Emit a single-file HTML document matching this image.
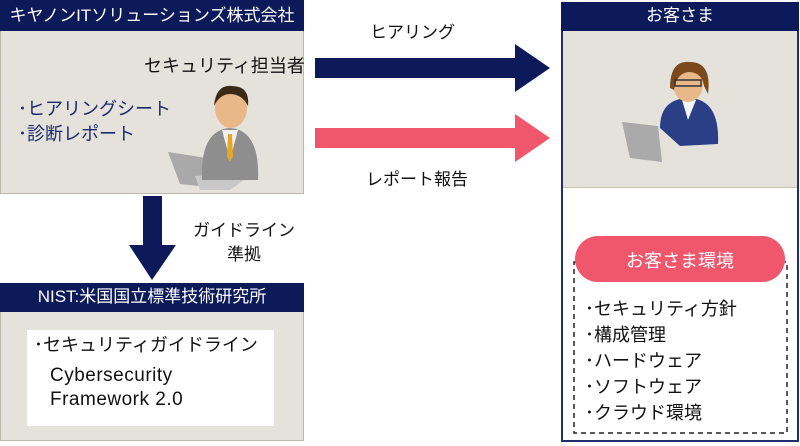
<!DOCTYPE html>
<html><head><meta charset="utf-8"><style>
body{margin:0;width:800px;height:446px;background:#fff;position:relative;overflow:hidden;font-family:"Liberation Sans","Noto Sans CJK JP",sans-serif}
div{position:absolute;box-sizing:border-box}
.hd{background:#0c1a5a;color:#fff;text-align:center;font-size:17px;line-height:28px}
.bg{background:#e5e2dc}
</style></head><body>
<div class="bg" style="left:0;top:0;width:304px;height:194px;border:1px solid #bdb8ac"></div>
<div class="hd" style="left:0;top:0;width:304px;height:31px;line-height:31px">キヤノンITソリューションズ株式会社</div>
<div style="left:144px;top:52px;font-size:18px;color:#111">セキュリティ担当者</div>
<div style="left:18px;top:97px;font-size:18px;color:#1c2a6b;line-height:25px">･ヒアリングシート<br>･診断レポート</div>
<svg style="position:absolute;left:160px;top:80px" width="110" height="110">
<path d="M8 72 L60 80 L58 108 L20 104Z" fill="#a9a9a9"/>
<path d="M35 96 L95 92 L70 110 L40 110Z" fill="#c8c8c8"/>
<path d="M42 100 Q40 50 70 48 Q100 50 98 100Z" fill="#8e8e8e"/>
<path d="M62 50 L70 80 L78 50Z" fill="#f0f0f0"/><path d="M68 54 L72 54 L73 76 L70 82 L67 76Z" fill="#e8a824"/>
<ellipse cx="71" cy="28" rx="16" ry="20" fill="#e8b888"/>
<path d="M54 26 Q56 4 72 6 Q90 6 88 26 Q82 14 70 14 Q60 14 54 26Z" fill="#3a2b18"/>
</svg>
<div class="bg" style="left:561px;top:2px;width:238px;height:440px;border:2px solid #1f2f6f;background:#fff"></div>
<div class="bg" style="left:563px;top:30px;width:234px;height:158px;border-bottom:1px solid #c9c0ae"></div>
<div class="hd" style="left:561px;top:2px;width:238px;height:29px">お客さま</div>
<svg style="position:absolute;left:620px;top:58px" width="110" height="110">
<path d="M2 64 L38 68 L42 104 L10 100Z" fill="#aaa"/>
<path d="M40 70 Q40 40 70 40 Q100 42 98 86 L60 88Z" fill="#2b3f86"/>
<path d="M62 42 L68 62 L76 42Z" fill="#f4f4f4"/>
<ellipse cx="68" cy="26" rx="15" ry="18" fill="#e8b888"/>
<path d="M50 30 Q50 2 70 4 Q92 4 88 36 L84 28 Q82 14 68 14 Q56 16 54 32Z" fill="#7a4a1c"/>
<rect x="55" y="22" width="26" height="6" fill="none" stroke="#333" stroke-width="1.5"/>
</svg>
<svg style="position:absolute;left:0;top:0" width="800" height="446">
<polygon points="315,58 515,58 515,44 550,68 515,92 515,78 315,78" fill="#0c1a5a"/>
<polygon points="315,128 515,128 515,114 550,138 515,162 515,148 315,148" fill="#f0566c"/>
<polygon points="143,196 162,196 162,245 176,245 152,280 129,245 143,245" fill="#0c1a5a"/>
<rect x="574" y="262" width="213" height="171" fill="none" stroke="#222" stroke-width="1.5" stroke-dasharray="5,4"/>
<rect x="575" y="236" width="210" height="46" rx="23" fill="#f0566c"/>
</svg>
<div style="left:370px;top:18px;font-size:17px;color:#111">ヒアリング</div>
<div style="left:366px;top:165px;font-size:17px;color:#111">レポート報告</div>
<div style="left:193px;top:219px;font-size:17px;color:#111;line-height:24px;text-align:center">ガイドライン<br>準拠</div>
<div style="left:575px;top:247px;width:210px;text-align:center;font-size:18px;color:#fff">お客さま環境</div>
<div style="left:585px;top:296px;font-size:18px;color:#111;line-height:26px">･セキュリティ方針<br>･構成管理<br>･ハードウェア<br>･ソフトウェア<br>･クラウド環境</div>
<div class="bg" style="left:0;top:283px;width:304px;height:158px;border:1px solid #bdb8ac"></div>
<div class="hd" style="left:0;top:283px;width:304px;height:29px">NIST:米国国立標準技術研究所</div>
<div style="left:27px;top:330px;width:247px;height:96px;background:#fff"></div>
<div style="left:34px;top:331px;font-size:18px;color:#111">･セキュリティガイドライン</div>
<div style="left:50px;top:364px;font-size:19px;color:#111;line-height:24px;letter-spacing:0.5px">Cybersecurity<br>Framework 2.0</div>
</body></html>
